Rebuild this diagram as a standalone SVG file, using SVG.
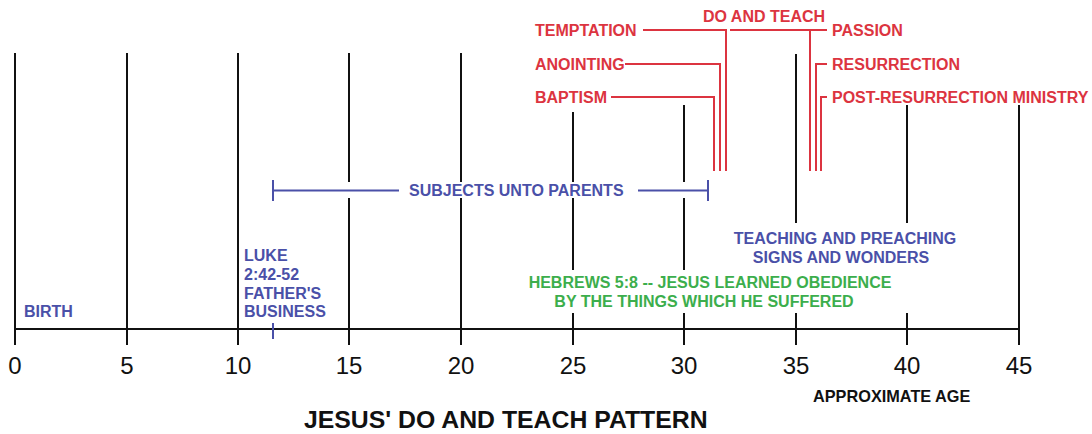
<svg xmlns="http://www.w3.org/2000/svg" width="1092" height="434" viewBox="0 0 1092 434">
<style>
text{font-family:"Liberation Sans",Arial,sans-serif;font-weight:bold}
.r{fill:#dc3440;font-size:16px}
.b{fill:#4a50a8;font-size:16px}
.g{fill:#3cae4c;font-size:16px}
.k{fill:#111;font-size:16.3px}
.num{fill:#111;font-size:24px;font-weight:normal;text-anchor:middle}
.grid{stroke:#111;stroke-width:2;fill:none}
.rl{stroke:#dc3440;stroke-width:2;fill:none}
.bl{stroke:#4a50a8;stroke-width:2;fill:none}
</style>
<rect width="1092" height="434" fill="#fff"/>
<g id="grid" class="grid">
<path d="M15 53V345M127 53V345M238 53V345"/>
<path d="M349 53V182M349 198V345M461 53V182M461 198V345"/>
<path d="M573 112V182M573 198V270M573 313V345"/>
<path d="M684 105V182M684 198V270M684 313V345"/>
<path d="M796 54V223M796 313V345M907 105V223M907 313V345M1019 105V345"/>
<path d="M15 329H1019"/>
</g>
<g id="axis-labels">
<text class="num" x="15" y="374">0</text>
<text class="num" x="127" y="374">5</text>
<text class="num" x="238" y="374">10</text>
<text class="num" x="349" y="374">15</text>
<text class="num" x="461" y="374">20</text>
<text class="num" x="573" y="374">25</text>
<text class="num" x="684" y="374">30</text>
<text class="num" x="796" y="374">35</text>
<text class="num" x="907" y="374">40</text>
<text class="num" x="1019" y="374">45</text>
</g>
<g id="connectors">
<path class="rl" d="M611 97H714V171M625 64H720V171M643 30H726V171"/>
<path class="rl" d="M730 30H827M810 30V171M827 64H816V171M827 97H821V171"/>
<path class="bl" d="M273 180V201M273 190.5H399M638 190.5H708M708 180V201"/>
<path class="bl" d="M273 323V339"/>
</g>
<g id="temptation"><text class="r" x="535" y="36">TEMPTATION</text></g>
<g id="anointing"><text class="r" x="535" y="70">ANOINTING</text></g>
<g id="baptism"><text class="r" x="535" y="103">BAPTISM</text></g>
<g id="do-and-teach"><text class="r" x="703" y="22">DO AND TEACH</text></g>
<g id="passion"><text class="r" x="832" y="36">PASSION</text></g>
<g id="resurrection"><text class="r" x="832" y="70">RESURRECTION</text></g>
<g id="post-resurrection"><text class="r" x="832" y="103">POST-RESURRECTION MINISTRY</text></g>
<g id="subjects"><text class="b" x="409" y="196">SUBJECTS UNTO PARENTS</text></g>
<g id="birth"><text class="b" x="24" y="317">BIRTH</text></g>
<g id="luke">
<text class="b" x="244" y="261">LUKE</text>
<text class="b" x="244" y="280">2:42-52</text>
<text class="b" x="244" y="298.5">FATHER'S</text>
<text class="b" x="244" y="317">BUSINESS</text>
</g>
<g id="teaching">
<text class="b" x="845" y="244" text-anchor="middle">TEACHING AND PREACHING</text>
<text class="b" x="841" y="263" text-anchor="middle">SIGNS AND WONDERS</text>
</g>
<g id="hebrews">
<text class="g" x="710" y="288" text-anchor="middle">HEBREWS 5:8 -- JESUS LEARNED OBEDIENCE</text>
<text class="g" x="704" y="307" text-anchor="middle">BY THE THINGS WHICH HE SUFFERED</text>
</g>
<g id="approx-age"><text class="k" x="813" y="402">APPROXIMATE AGE</text></g>
<g id="title"><text x="304" y="428" style="font-size:24.8px;fill:#111">JESUS' DO AND TEACH PATTERN</text></g>
</svg>
